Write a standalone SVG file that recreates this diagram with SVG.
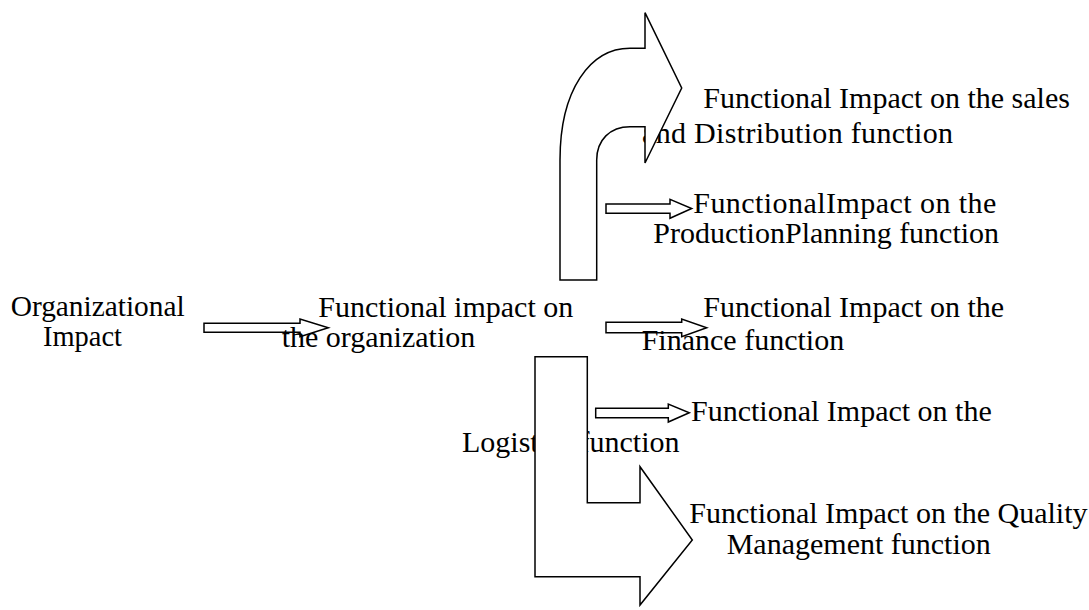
<svg xmlns="http://www.w3.org/2000/svg" width="1089" height="610" viewBox="0 0 1089 610">
<style>
text{font-family:"Liberation Serif","Times New Roman",serif;font-size:30px;fill:#000}
.arr{fill:#fff;stroke:#000;stroke-width:1.5;stroke-linejoin:miter}
</style>
<rect width="1089" height="610" fill="#fff"/>
<g id="connectors">
<path class="arr" d="M204 323.3 L300 323.3 L300 319 L328.3 327.7 L300 336.7 L300 332.3 L204 332.3 Z"/>
<path class="arr" d="M606 204 L670 204 L670 199.3 L691.7 208.5 L670 218.3 L670 213.3 L606 213.3 Z"/>
<path class="arr" d="M606 322.3 L681.7 322.3 L681.7 319 L706.7 327.7 L681.7 336.7 L681.7 332.7 L606 332.7 Z"/>
<path class="arr" d="M595.7 408.3 L668.3 408.3 L668.3 404 L689.3 412.7 L668.3 422 L668.3 417.7 L595.7 417.7 Z"/>
</g>
<g id="organizational-impact">
<text x="10.7" y="316" textLength="174" lengthAdjust="spacingAndGlyphs">Organizational</text>
<text x="43" y="346" textLength="79" lengthAdjust="spacingAndGlyphs">Impact</text>
</g>
<g id="functional-impact-org">
<text x="318.3" y="316.7">Functional impact on</text>
<text x="281.7" y="346.7">the organization</text>
</g>
<g id="sales-distribution">
<text x="703.3" y="108.3">Functional Impact on the sales</text>
<text x="642" y="142.7" textLength="311" lengthAdjust="spacing">and Distribution function</text>
</g>
<g id="production-planning">
<text x="693.3" y="212.7" textLength="303" lengthAdjust="spacing">FunctionalImpact on the</text>
<text x="653.3" y="243.3">ProductionPlanning function</text>
</g>
<g id="finance">
<text x="703.3" y="316.7">Functional Impact on the</text>
<text x="641.7" y="350">Finance function</text>
</g>
<g id="logistics">
<text x="691" y="420.8">Functional Impact on the</text>
<text x="462" y="451.5">Logistics function</text>
</g>
<g id="quality-management">
<text x="689.3" y="523.3">Functional Impact on the Quality</text>
<text x="726.7" y="554">Management function</text>
</g>
<g id="big-arrows">
<path class="arr" d="M560 280 L560 160 C560 90 590 48.3 630 48.3 L645 48.3 L645 12.7 L681.7 88 L645 163 L645 126.7 L630 126.7 C610 126.7 596.7 140 596.7 160 L596.7 280 Z"/>
<path class="arr" d="M535 356.7 L587.3 356.7 L587.3 502.7 L640 502.7 L640 466.7 L692.3 540 L640 605 L640 576.7 L535 576.7 Z"/>
</g>
</svg>
